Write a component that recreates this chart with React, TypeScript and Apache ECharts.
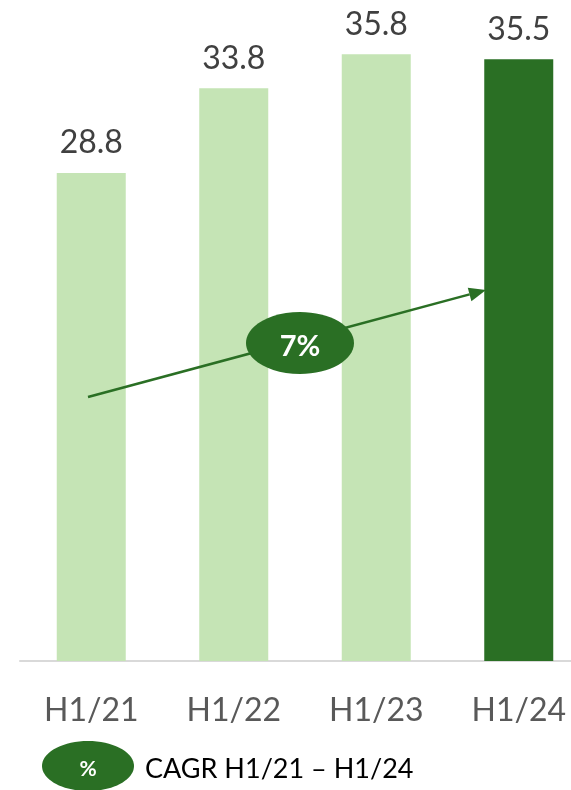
import React, { useEffect, useRef } from "react";
import * as echarts from "echarts";

const categories = ["H1/21", "H1/22", "H1/23", "H1/24"];
const values = [28.8, 33.8, 35.8, 35.5];
const cagrLabel = "7%";
const legendText = "CAGR H1/21 \u2013 H1/24";

const LIGHT = "#c5e4b5";
const DARK = "#2a6f24";
const FONT = "Lato, 'Open Sans', sans-serif";

export default function App() {
  const ref = useRef<HTMLDivElement>(null);
  useEffect(() => {
    if (!ref.current) return;
    const chart = echarts.init(ref.current, undefined, { renderer: "svg" });
    // arrow geometry
    const sx = 88, sy = 397, tx = 486, ty = 290;
    const dx = tx - sx, dy = ty - sy;
    const len = Math.sqrt(dx * dx + dy * dy);
    const ux = dx / len, uy = dy / len;
    const bx = tx - 17 * ux, by = ty - 17 * uy;
    const nx = -uy, ny = ux;
    chart.setOption({
      animation: false,
      grid: { left: 20, right: 0, top: 0, bottom: 129, containLabel: false },
      xAxis: {
        type: "category",
        data: categories,
        axisLine: { lineStyle: { color: "#d9d9d9", width: 2 } },
        axisTick: { show: false },
        axisLabel: { color: "#595959", fontSize: 32, fontFamily: FONT, margin: 31 },
      },
      yAxis: { type: "value", min: 0, max: 39, show: false, splitLine: { show: false } },
      series: [
        {
          type: "bar",
          barWidth: 69,
          data: values.map((v, i) => ({
            value: v,
            itemStyle: { color: i === values.length - 1 ? DARK : LIGHT },
          })),
          label: {
            show: true,
            position: "top",
            distance: 16,
            color: "#404040",
            fontSize: 32,
            fontFamily: FONT,
            formatter: (p: any) => p.value.toFixed(1),
          },
        },
      ],
      graphic: [
        {
          type: "line",
          z: 100,
          shape: { x1: sx, y1: sy, x2: bx, y2: by },
          style: { stroke: DARK, lineWidth: 2.5 },
        },
        {
          type: "polygon",
          z: 100,
          shape: {
            points: [
              [tx, ty],
              [bx + 7 * nx, by + 7 * ny],
              [bx - 7 * nx, by - 7 * ny],
            ],
          },
          style: { fill: DARK },
        },
        {
          type: "ellipse",
          z: 101,
          shape: { cx: 300, cy: 343, rx: 54, ry: 31 },
          style: { fill: DARK },
        },
        {
          type: "text",
          z: 102,
          x: 300,
          y: 344,
          style: {
            text: cagrLabel,
            fill: "#ffffff",
            fontSize: 29,
            fontWeight: "bold",
            fontFamily: FONT,
            align: "center",
            verticalAlign: "middle",
          },
        },
        {
          type: "ellipse",
          z: 100,
          shape: { cx: 88, cy: 766, rx: 46, ry: 25 },
          style: { fill: DARK },
        },
        {
          type: "text",
          z: 101,
          x: 88,
          y: 767,
          style: {
            text: "%",
            fill: "#ffffff",
            fontSize: 21,
            fontWeight: "bold",
            fontFamily: FONT,
            align: "center",
            verticalAlign: "middle",
          },
        },
        {
          type: "text",
          z: 100,
          x: 145,
          y: 767,
          style: {
            text: legendText,
            fill: "#000000",
            fontSize: 27,
            fontFamily: FONT,
            align: "left",
            verticalAlign: "middle",
          },
        },
      ],
    });
    return () => chart.dispose();
  }, []);
  return <div ref={ref} style={{ width: 590, height: 790, position: "fixed", left: 0, top: 0 }} />;
}
